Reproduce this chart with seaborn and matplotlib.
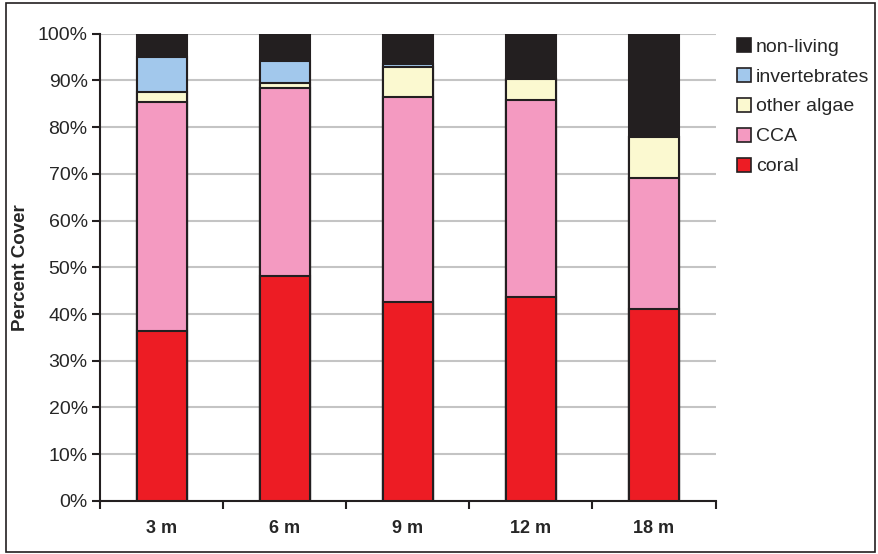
import seaborn as sns
import matplotlib.pyplot as plt
import matplotlib.patches as mpatches
from matplotlib.ticker import FixedLocator, PercentFormatter
import pandas as pd
import numpy as np

depths = ['3 m', '6 m', '9 m', '12 m', '18 m']
coral = [36.4, 48.2, 42.6, 43.7, 41.1]
cca = [48.9, 40.2, 43.8, 42.1, 28.1]
other_algae = [2.2, 1.0, 6.4, 4.5, 8.6]
invertebrates = [7.5, 4.8, 0.7, 0.0, 0.0]
non_living = [5.0, 5.8, 6.5, 9.7, 22.2]

categories = ['coral', 'CCA', 'other algae', 'invertebrates', 'non-living']
colors = ['#ED1C24', '#F49AC1', '#FBF9D0', '#A2C8EC', '#231F20']

df = pd.DataFrame({'depth': depths, 'coral': coral, 'CCA': cca,
                   'other algae': other_algae, 'invertebrates': invertebrates,
                   'non-living': non_living})
cum = df[categories].cumsum(axis=1)

sns.set_style('white')
plt.rcParams['font.family'] = ['Liberation Sans', 'DejaVu Sans']

fig = plt.figure(figsize=(8.79, 5.54), dpi=100)
ax = fig.add_axes([0.114, 0.096, 0.70, 0.843])

# draw the tallest cumulative first so lower segments sit on top
for cat, col in reversed(list(zip(categories, colors))):
    sns.barplot(x=df['depth'], y=cum[cat], color=col, width=0.41,
                edgecolor='#231F20', linewidth=1.5, saturation=1, ax=ax, zorder=3)

ax.set_ylim(0, 100)
ax.set_xlim(-0.5, 4.5)
ax.yaxis.set_major_locator(FixedLocator(np.arange(0, 101, 10)))
ax.yaxis.set_major_formatter(PercentFormatter(decimals=0))
ax.grid(axis='y', color='#C4C4C4', linewidth=1.5, zorder=0)
ax.set_axisbelow(True)

for s in ['top', 'right']:
    ax.spines[s].set_visible(False)
for s in ['left', 'bottom']:
    ax.spines[s].set_color('#231F20')
    ax.spines[s].set_linewidth(1.5)

ax.tick_params(axis='y', direction='out', length=6, width=1.5, color='#231F20',
               labelsize=14, left=True, pad=3)
ax.set_xticks(range(len(depths)))
ax.set_xticklabels(depths, fontweight='bold', fontsize=13)
ax.tick_params(axis='x', which='major', length=0, pad=14)
ax.xaxis.set_minor_locator(FixedLocator(np.arange(-0.5, 4.6, 1)))
ax.tick_params(axis='x', which='minor', direction='out', length=6, width=1.5,
               color='#231F20', bottom=True)
ax.set_xlabel('')
ax.set_ylabel('Percent Cover', fontweight='bold', fontsize=13.5, labelpad=6)

handles = [mpatches.Patch(facecolor=c, edgecolor='#231F20', linewidth=1.2, label=l)
           for l, c in zip(categories, colors)][::-1]
fig.legend(handles=handles, loc='upper left', bbox_to_anchor=(0.838, 0.932),
           frameon=False, fontsize=14, handlelength=0.75, handleheight=0.75,
           handletextpad=0.25, labelspacing=0.62, borderaxespad=0, borderpad=0)

fig.patches.append(mpatches.Rectangle((0.007, 0.004), 0.988, 0.99,
                                      transform=fig.transFigure, fill=False,
                                      edgecolor='#231F20', linewidth=1.2))

plt.savefig('out.png', dpi=100)
